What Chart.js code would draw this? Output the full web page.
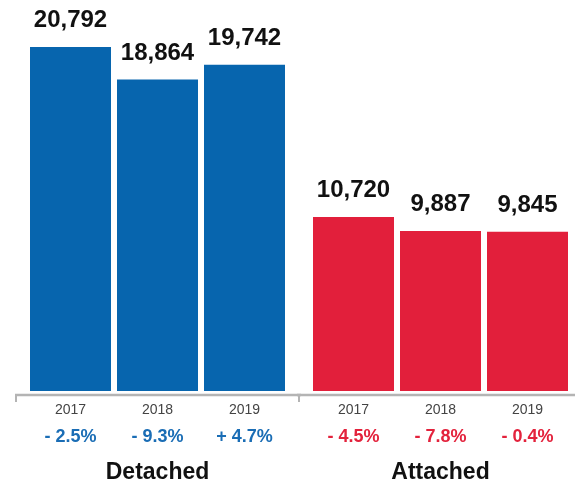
<!DOCTYPE html>
<html>
<head>
<meta charset="utf-8">
<script src="https://cdn.jsdelivr.net/npm/chart.js@4/dist/chart.umd.min.js"></script>
<style>
  html, body { margin: 0; padding: 0; background: #fff; }
  body { width: 575px; height: 484px; position: relative; overflow: hidden; }
  .wrap { position: absolute; top: 0; height: 484px; }
  #w1 { left: 0; width: 301px; }
  #w2 { left: 297px; width: 278px; }
</style>
</head>
<body>
<div class="wrap" id="w1"><canvas id="c1"></canvas></div>
<div class="wrap" id="w2"><canvas id="c2"></canvas></div>
<script>
// ---- data ----
const years = ['2017', '2018', '2019'];
const detachedValues = [20792, 18864, 19742];
const attachedValues = [10720, 9887, 9845];
const detachedChanges = ['- 2.5%', '- 9.3%', '+ 4.7%'];
const attachedChanges = ['- 4.5%', '- 7.8%', '- 0.4%'];
const groupNames = ['Detached', 'Attached'];

const FONT = "'Liberation Sans', Arial, Helvetica, sans-serif";
const BLUE = '#0765ae';
const RED = '#e21f3b';
const BLUE_TXT = '#1a6db5';
const RED_TXT = '#e3223c';

const valueLabels = {
  id: 'valueLabels',
  afterDatasetsDraw(chart) {
    const ctx = chart.ctx;
    ctx.save();
    ctx.font = 'bold 24px ' + FONT;
    ctx.fillStyle = '#111';
    ctx.textAlign = 'center';
    ctx.textBaseline = 'alphabetic';
    chart.getDatasetMeta(0).data.forEach((bar, i) => {
      const v = chart.data.datasets[0].data[i];
      ctx.fillText(v.toLocaleString('en-US'), bar.x, bar.y - 20);
    });
    ctx.restore();
  }
};

const axisLine = {
  id: 'axisLine',
  afterDraw(chart, args, opts) {
    const ctx = chart.ctx;
    const y = chart.chartArea.bottom + 4;
    ctx.save();
    ctx.strokeStyle = '#b4b4b4';
    ctx.lineWidth = 2.5;
    ctx.beginPath();
    ctx.moveTo(opts.from, y);
    ctx.lineTo(opts.to, y);
    ctx.stroke();
    ctx.lineWidth = 2;
    (opts.ticks || []).forEach(tx => {
      ctx.beginPath();
      ctx.moveTo(tx, y);
      ctx.lineTo(tx, y + 7);
      ctx.stroke();
    });
    ctx.restore();
  }
};

function makeChart(id, values, changes, name, barColor, txtColor, pad, line) {
  return new Chart(document.getElementById(id), {
    type: 'bar',
    data: {
      labels: years,
      datasets: [{
        data: values,
        backgroundColor: barColor,
        borderWidth: 0,
        barPercentage: 0.931,
        categoryPercentage: 1.0
      }]
    },
    options: {
      responsive: true,
      maintainAspectRatio: false,
      animation: false,
      layout: { padding: { left: pad.left, right: pad.right, top: 0, bottom: 0 } },
      plugins: {
        legend: { display: false },
        tooltip: { enabled: false },
        axisLine: line
      },
      scales: {
        y: { display: false, min: 400, max: 23580 },
        x: {
          position: 'bottom',
          grid: { display: false, drawTicks: false, tickLength: 0 },
          border: { display: false },
          ticks: { color: '#444', font: { family: FONT, size: 14 }, padding: 10.3 }
        },
        x2: {
          type: 'category',
          position: 'bottom',
          labels: changes,
          grid: { display: false, drawTicks: false, tickLength: 0 },
          border: { display: false },
          ticks: { color: txtColor, font: { family: FONT, size: 18, weight: 'bold' }, padding: -2 },
          title: {
            display: true,
            text: name,
            color: '#111',
            font: { family: FONT, size: 23, weight: 'bold', lineHeight: 1 },
            padding: { top: 15, bottom: 0 }
          }
        }
      }
    },
    plugins: [valueLabels, axisLine]
  });
}

makeChart('c1', detachedValues, detachedChanges, groupNames[0], BLUE, BLUE_TXT,
  { left: 27, right: 13 }, { from: 15, to: 301, ticks: [16, 299] });
makeChart('c2', attachedValues, attachedChanges, groupNames[1], RED, RED_TXT,
  { left: 13, right: 4 }, { from: 0, to: 278, ticks: [2] });
</script>
</body>
</html>
